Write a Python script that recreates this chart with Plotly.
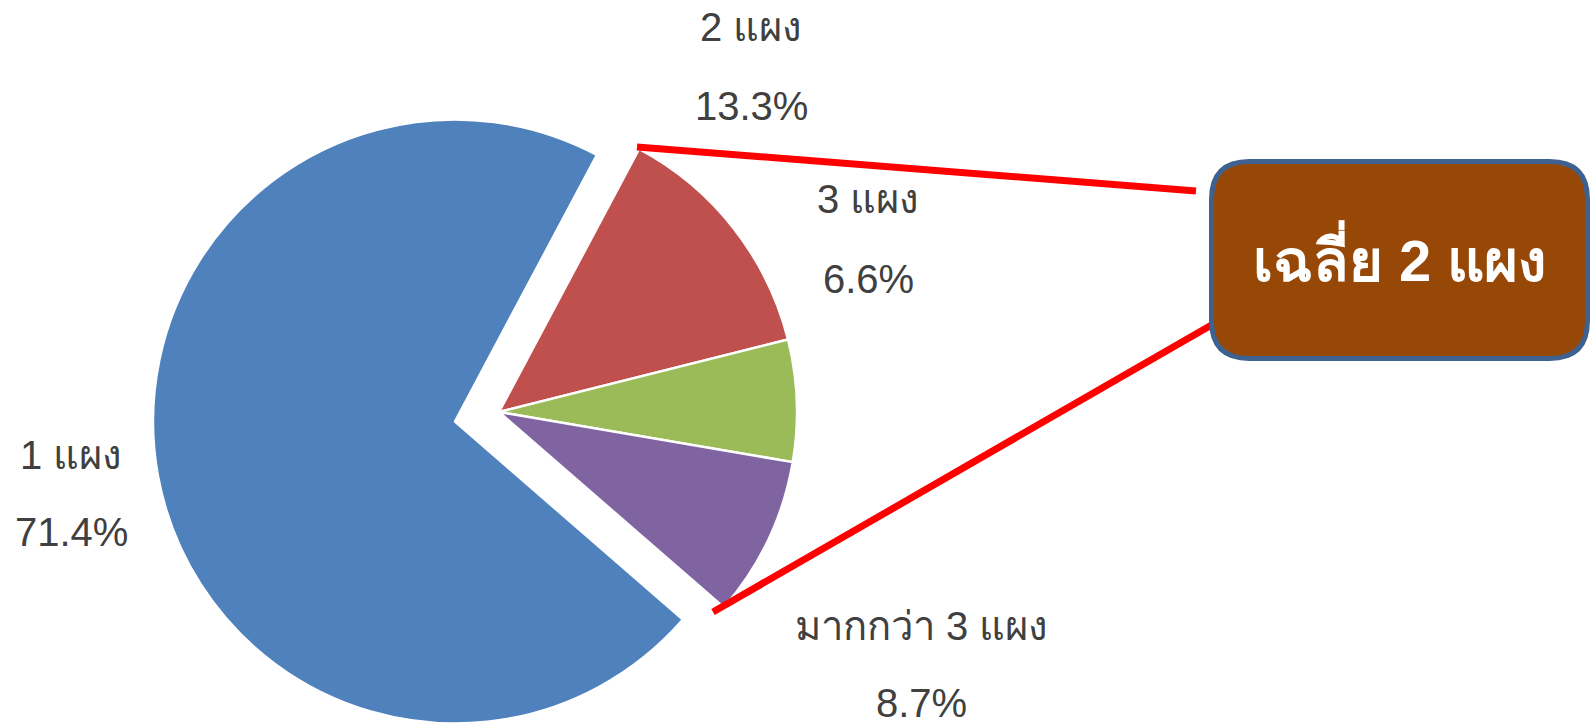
import plotly.graph_objects as go

W, H = 1591, 727

labels = ["1 แผง", "2 แผง", "3 แผง", "มากกว่า 3 แผง"]
percents = [71.4, 13.3, 6.6, 8.7]
colors = ["#4f81bd", "#c0504d", "#9bbb59", "#8064a2"]
callout_text = "เฉลี่ย 2 แผง"

FONT = "Arial, Liberation Sans, sans-serif"
GREY = "#404040"
CLEAR = "rgba(0,0,0,0)"


def px(x, y):
    # pixel position -> paper coordinates
    return x / W, 1 - y / H


def pie_domain(cx, cy, r):
    x0, y0 = px(cx - r, cy + r)
    x1, y1 = px(cx + r, cy - r)
    return dict(x=[x0, x1], y=[y0, y1])


def pie_trace(show, cx, cy, r):
    # same slices in both traces; only the ones in `show` are painted
    fill = [c if i in show else CLEAR for i, c in enumerate(colors)]
    edge = ["white" if i in show else CLEAR for i in range(len(colors))]
    widths = [2.5 if i in show else 0 for i in range(len(colors))]
    return go.Pie(
        labels=labels,
        values=percents,
        sort=False,
        direction="clockwise",
        rotation=131,
        marker=dict(colors=fill, line=dict(color=edge, width=widths)),
        textinfo="none",
        hoverinfo="skip",
        showlegend=False,
        domain=pie_domain(cx, cy, r),
    )


fig = go.Figure()
# the big slice sits a little apart from the rest
fig.add_trace(pie_trace({0}, 455, 421.5, 302))
fig.add_trace(pie_trace({1, 2, 3}, 499, 412, 298))

# slice labels: name and share on separate lines
label_pos = [(71, 455, 532), (751, 27, 106), (868, 199, 279), (921, 626, 703)]
for name, pct, (x, y_name, y_pct) in zip(labels, percents, label_pos):
    for txt, y in ((name, y_name), (f"{pct:.1f}%", y_pct)):
        ax, ay = px(x, y)
        fig.add_annotation(
            x=ax, y=ay, xref="paper", yref="paper", text=txt, showarrow=False,
            xanchor="center", yanchor="middle",
            font=dict(family=FONT, size=40, color=GREY),
        )

shapes = []
for (x0, y0), (x1, y1) in [((637, 147), (1196, 191)), ((713, 612), (1215, 323))]:
    a0, b0 = px(x0, y0)
    a1, b1 = px(x1, y1)
    shapes.append(dict(type="line", xref="paper", yref="paper", x0=a0, y0=b0, x1=a1, y1=b1,
                       line=dict(color="#ff0000", width=7)))

# rounded callout box
L, T, R, B, rad = 1211.5, 161.5, 1587.5, 358.5, 38
pts = [
    ("M", (L + rad, T)), ("L", (R - rad, T)), ("Q", (R, T), (R, T + rad)),
    ("L", (R, B - rad)), ("Q", (R, B), (R - rad, B)), ("L", (L + rad, B)),
    ("Q", (L, B), (L, B - rad)), ("L", (L, T + rad)), ("Q", (L, T), (L + rad, T)),
]
path = ""
for cmd, *ps in pts:
    path += cmd + " " + " ".join("%.5f,%.5f" % px(*p) for p in ps) + " "
path += "Z"
shapes.append(dict(type="path", xref="paper", yref="paper", path=path,
                   fillcolor="#974806", line=dict(color="#3e6190", width=5)))

bx, by = px(1400, 256)
fig.add_annotation(
    x=bx, y=by, xref="paper", yref="paper", text=f"<b>{callout_text}</b>", showarrow=False,
    xanchor="center", yanchor="middle",
    font=dict(family=FONT, size=58, color="white"),
)

fig.update_layout(
    width=W, height=H,
    margin=dict(l=0, r=0, t=0, b=0),
    paper_bgcolor="white", plot_bgcolor="white",
    shapes=shapes,
)

# drop the page's default body margin so the figure sits at the window corner
fig.write_html("out.html", config={"displayModeBar": False},
               post_script="document.body.style.margin='0';")
